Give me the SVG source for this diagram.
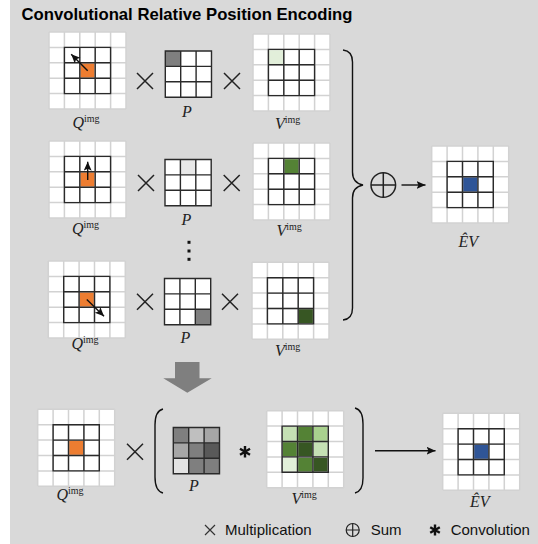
<svg xmlns="http://www.w3.org/2000/svg" xmlns:xlink="http://www.w3.org/1999/xlink" width="538" height="544" viewBox="0 0 538 544">
<style>
.w{fill:#fff}
.lt{fill:none;stroke:#d2d2d2;stroke-width:1.5}
.dk{fill:none;stroke:#2a2a2a;stroke-width:1.4}
.or{fill:#ed7d31}
.bl{fill:#2f5597}
.op{stroke:#222;stroke-width:1.5;fill:none}
.ln{stroke:#111;stroke-width:1.4;fill:none}
.m{font-family:"Liberation Serif","DejaVu Serif",serif;font-size:16px;fill:#222}
.m .i{font-style:italic}
.m .s{font-size:10px}
.t{font-family:"Liberation Sans",Arial,sans-serif;font-weight:bold;font-size:16.5px;fill:#000}
.lg{font-family:"Liberation Sans",Arial,sans-serif;font-size:15px;fill:#111}
</style>
<defs>
<g id="g5">
<path class="lt" d="M0,0H77M0,15.4H77M0,30.8H77M0,46.2H77M0,61.6H77M0,77H77M0,0V77M15.4,0V77M30.8,0V77M46.2,0V77M61.6,0V77M77,0V77"/>
<path class="dk" d="M15.4,15.4H61.6V61.6H15.4ZM15.4,30.8H61.6M15.4,46.2H61.6M30.8,15.4V61.6M46.2,15.4V61.6"/>
</g>
<g id="g3">
<path class="dk" d="M0,0H46.2V46.2H0ZM0,15.4H46.2M0,30.8H46.2M15.4,0V46.2M30.8,0V46.2"/>
</g>
<marker id="ah" markerUnits="userSpaceOnUse" markerWidth="10" markerHeight="10" refX="9" refY="4" orient="auto">
<path d="M0,0L9,4L0,8L2,4Z" fill="#111"/>
</marker>
</defs>
<rect x="10" y="0" width="528" height="544" fill="#d9d9d9"/>
<text class="t" x="21.5" y="20" textLength="331" lengthAdjust="spacingAndGlyphs">Convolutional Relative Position Encoding</text>

<!-- Row 1 -->
<g id="q1" transform="translate(49,32)">
<rect class="w" width="77" height="77"/><rect class="or" x="30.8" y="30.8" width="15.4" height="15.4"/><use xlink:href="#g5"/>
<line class="ln" x1="38.7" y1="38.7" x2="22.2" y2="22.2" marker-end="url(#ah)"/>
</g>
<g id="p1" transform="translate(165.3,51)">
<rect class="w" width="46.2" height="46.2"/><rect x="0" y="0" width="15.4" height="15.4" fill="#7f7f7f"/><use xlink:href="#g3"/>
</g>
<g id="v1" transform="translate(253,34)">
<rect class="w" width="77" height="77"/><rect x="15.4" y="15.4" width="15.4" height="15.4" fill="#e2efda"/><use xlink:href="#g5"/>
</g>
<!-- Row 2 -->
<g id="q2" transform="translate(49,141)">
<rect class="w" width="77" height="77"/><rect class="or" x="30.8" y="30.8" width="15.4" height="15.4"/><use xlink:href="#g5"/>
<line class="ln" x1="38.7" y1="39" x2="38.7" y2="20.7" marker-end="url(#ah)"/>
</g>
<g id="p2" transform="translate(165,159.5)">
<rect class="w" width="46.2" height="46.2"/><rect x="15.4" y="0" width="15.4" height="15.4" fill="#e8e8e8"/><use xlink:href="#g3"/>
</g>
<g id="v2" transform="translate(253,143)">
<rect class="w" width="77" height="77"/><rect x="30.8" y="15.4" width="15.4" height="15.4" fill="#548235"/><use xlink:href="#g5"/>
</g>
<!-- Row 3 -->
<g id="q3" transform="translate(48.3,261)">
<rect class="w" width="77" height="77"/><rect class="or" x="30.8" y="30.8" width="15.4" height="15.4"/><use xlink:href="#g5"/>
<line class="ln" x1="38.5" y1="38.5" x2="55.7" y2="55.2" marker-end="url(#ah)"/>
</g>
<g id="p3" transform="translate(164.5,278.5)">
<rect class="w" width="46.2" height="46.2"/><rect x="30.8" y="30.8" width="15.4" height="15.4" fill="#7f7f7f"/><use xlink:href="#g3"/>
</g>
<g id="v3" transform="translate(252,262.3)">
<rect class="w" width="77" height="77"/><rect x="46.2" y="46.2" width="15.4" height="15.4" fill="#375623"/><use xlink:href="#g5"/>
</g>
<!-- EV top -->
<g id="ev1" transform="translate(431.7,146)">
<rect class="w" width="77" height="77"/><rect class="bl" x="30.8" y="30.8" width="15.4" height="15.4"/><use xlink:href="#g5"/>
</g>

<!-- labels -->
<g id="labels">
<text class="m" x="72.5" y="128"><tspan class="i">Q</tspan><tspan class="s" dy="-6">img</tspan></text>
<text class="m" x="182" y="116.5"><tspan class="i">P</tspan></text>
<text class="m" x="275" y="128.5"><tspan class="i">V</tspan><tspan class="s" dy="-6">img</tspan></text>
<text class="m" x="72" y="234"><tspan class="i">Q</tspan><tspan class="s" dy="-6">img</tspan></text>
<text class="m" x="181.5" y="225"><tspan class="i">P</tspan></text>
<text class="m" x="276.5" y="236"><tspan class="i">V</tspan><tspan class="s" dy="-6">img</tspan></text>
<text class="m" x="71.5" y="349"><tspan class="i">Q</tspan><tspan class="s" dy="-6">img</tspan></text>
<text class="m" x="180.5" y="343"><tspan class="i">P</tspan></text>
<text class="m" x="275" y="356"><tspan class="i">V</tspan><tspan class="s" dy="-6">img</tspan></text>
<text class="m" x="458.5" y="246.5"><tspan class="i">ÊV</tspan></text>
<text class="m" x="56.5" y="500"><tspan class="i">Q</tspan><tspan class="s" dy="-6">img</tspan></text>
<text class="m" x="189" y="491"><tspan class="i">P</tspan></text>
<text class="m" x="291.5" y="504"><tspan class="i">V</tspan><tspan class="s" dy="-6">img</tspan></text>
<text class="m" x="470" y="507"><tspan class="i">ÊV</tspan></text>
</g>

<!-- vertical dots -->
<g id="dots" fill="#111">
<rect x="187.5" y="240.8" width="3" height="3"/>
<rect x="187.5" y="249.5" width="3" height="3"/>
<rect x="187.5" y="257.8" width="3" height="3"/>
</g>

<!-- Bottom row -->
<g id="q4" transform="translate(37.7,409.3)">
<rect class="w" width="77" height="77"/><rect class="or" x="30.8" y="30.8" width="15.4" height="15.4"/><use xlink:href="#g5"/>
</g>
<g id="p4" transform="translate(173.3,427.5)">
<rect x="0" y="0" width="15.4" height="15.4" fill="#7f7f7f"/>
<rect x="15.4" y="0" width="15.4" height="15.4" fill="#bfbfbf"/>
<rect x="30.8" y="0" width="15.4" height="15.4" fill="#a6a6a6"/>
<rect x="0" y="15.4" width="15.4" height="15.4" fill="#a6a6a6"/>
<rect x="15.4" y="15.4" width="15.4" height="15.4" fill="#7f7f7f"/>
<rect x="30.8" y="15.4" width="15.4" height="15.4" fill="#595959"/>
<rect x="0" y="30.8" width="15.4" height="15.4" fill="#e3e3e3"/>
<rect x="15.4" y="30.8" width="15.4" height="15.4" fill="#7f7f7f"/>
<rect x="30.8" y="30.8" width="15.4" height="15.4" fill="#7f7f7f"/>
<use xlink:href="#g3"/>
</g>
<g id="v4" transform="translate(266.7,410.7)">
<rect class="w" width="77" height="77"/>
<rect x="15.4" y="15.4" width="15.4" height="15.4" fill="#c5e0b4"/>
<rect x="30.8" y="15.4" width="15.4" height="15.4" fill="#548235"/>
<rect x="46.2" y="15.4" width="15.4" height="15.4" fill="#a9d18e"/>
<rect x="15.4" y="30.8" width="15.4" height="15.4" fill="#548235"/>
<rect x="30.8" y="30.8" width="15.4" height="15.4" fill="#375623"/>
<rect x="46.2" y="30.8" width="15.4" height="15.4" fill="#c5e0b4"/>
<rect x="15.4" y="46.2" width="15.4" height="15.4" fill="#e2f0d9"/>
<rect x="30.8" y="46.2" width="15.4" height="15.4" fill="#548235"/>
<rect x="46.2" y="46.2" width="15.4" height="15.4" fill="#375623"/>
<use xlink:href="#g5"/>
</g>
<g id="ev2" transform="translate(442.7,413.3)">
<rect class="w" width="77" height="77"/><rect class="bl" x="30.8" y="30.8" width="15.4" height="15.4"/><use xlink:href="#g5"/>
</g>

<!-- connectors and operators -->
<g id="connectors">
<path class="op" d="M137,73L153,89M137,89L153,73"/>
<path class="op" d="M224,73L240,89M224,89L240,73"/>
<path class="op" d="M138,175L154,191M138,191L154,175"/>
<path class="op" d="M223.7,175L239.7,191M223.7,191L239.7,175"/>
<path class="op" d="M137,293.7L153,309.7M137,309.7L153,293.7"/>
<path class="op" d="M222,293.7L238,309.7M222,309.7L238,293.7"/>
<path class="op" d="M127,443.7L143,459.7M127,459.7L143,443.7"/>
<path d="M245,446V457.5M240,448.8L250,454.7M240,454.7L250,448.8" stroke="#111" stroke-width="2.4" fill="none"/>
<path class="ln" d="M343,50Q352.5,51 352.5,62V172Q352.5,183 363,185Q352.5,187 352.5,198V308Q352.5,319 343,320"/>
<circle class="op" cx="383.3" cy="185" r="12.3"/>
<path class="op" d="M371,185H395.6M383.3,172.7V197.3"/>
<line class="ln" x1="401.5" y1="185" x2="425.5" y2="185" marker-end="url(#ah)"/>
<polygon points="175,362 199.5,362 199.5,378.3 211.7,378.3 187.3,392.7 163.3,378.3 175,378.3" fill="#7f7f7f"/>
<path class="ln" d="M163,409Q155,411 155,425V477Q155,491 163,493"/>
<path class="ln" d="M355,408Q363,410 363,424V478Q363,491 355,493"/>
<line class="ln" x1="375" y1="450.7" x2="435.5" y2="450.7" marker-end="url(#ah)"/>
</g>

<!-- legend -->
<g id="legend">
<path d="M205,525L215,535M205,535L215,525" stroke="#333" stroke-width="1.2" fill="none"/>
<text class="lg" x="225" y="535">Multiplication</text>
<circle cx="352.7" cy="530" r="6.5" stroke="#222" stroke-width="1.2" fill="none"/>
<path d="M346.2,530H359.2M352.7,523.5V536.5" stroke="#222" stroke-width="1.2"/>
<text class="lg" x="370.7" y="535">Sum</text>
<path d="M435,524.5V535.5M430.2,527.2L439.8,532.8M430.2,532.8L439.8,527.2" stroke="#111" stroke-width="2.4" fill="none"/>
<text class="lg" x="450.7" y="535">Convolution</text>
</g>
</svg>
